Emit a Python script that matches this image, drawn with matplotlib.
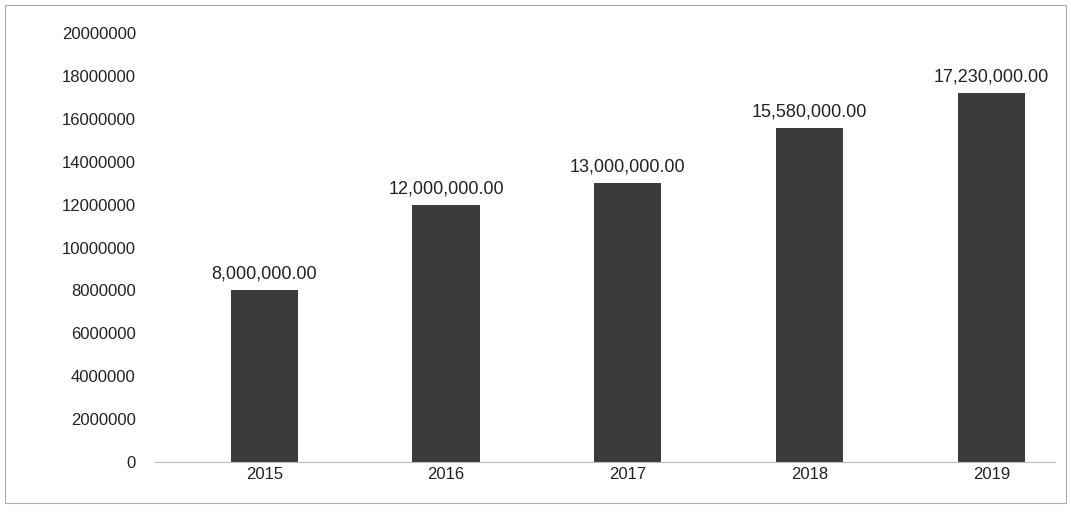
import matplotlib
matplotlib.use("Agg")
import matplotlib.pyplot as plt

years = ["2015", "2016", "2017", "2018", "2019"]
values = [8000000, 12000000, 13000000, 15580000, 17230000]
yticks = list(range(0, 20000001, 2000000))

fig = plt.figure(figsize=(10.71, 5.13), dpi=100)
ax = fig.add_axes([0.145, 0.10, 0.84, 0.835])
x = range(len(years))
ax.bar(x, values, width=0.37, color="#3b3b3b")
for xi, v in zip(x, values):
    ax.text(xi, v + 350000, f"{v:,.2f}", ha="center", va="bottom",
            fontsize=13, family="Liberation Sans", color="#222222")
ax.set_xlim(-0.6, 4.35)
ax.set_ylim(0, 20000000)
ax.set_yticks(yticks)
ax.set_yticklabels([str(t) for t in yticks], fontsize=12, family="Liberation Sans", color="#222222")
ax.set_xticks(list(x))
ax.set_xticklabels(years, fontsize=12, family="Liberation Sans", color="#222222")
ax.tick_params(axis="y", length=0, pad=14)
ax.tick_params(axis="x", length=0, pad=4)
for s in ["top", "right", "left"]:
    ax.spines[s].set_visible(False)
ax.spines["bottom"].set_color("#bbbbbb")
fig.patches.append(plt.Rectangle((0.005, 0.02), 0.99, 0.97, transform=fig.transFigure,
                                 fill=False, edgecolor="#aaaaaa", linewidth=0.8))
fig.savefig("out.png", dpi=100)
